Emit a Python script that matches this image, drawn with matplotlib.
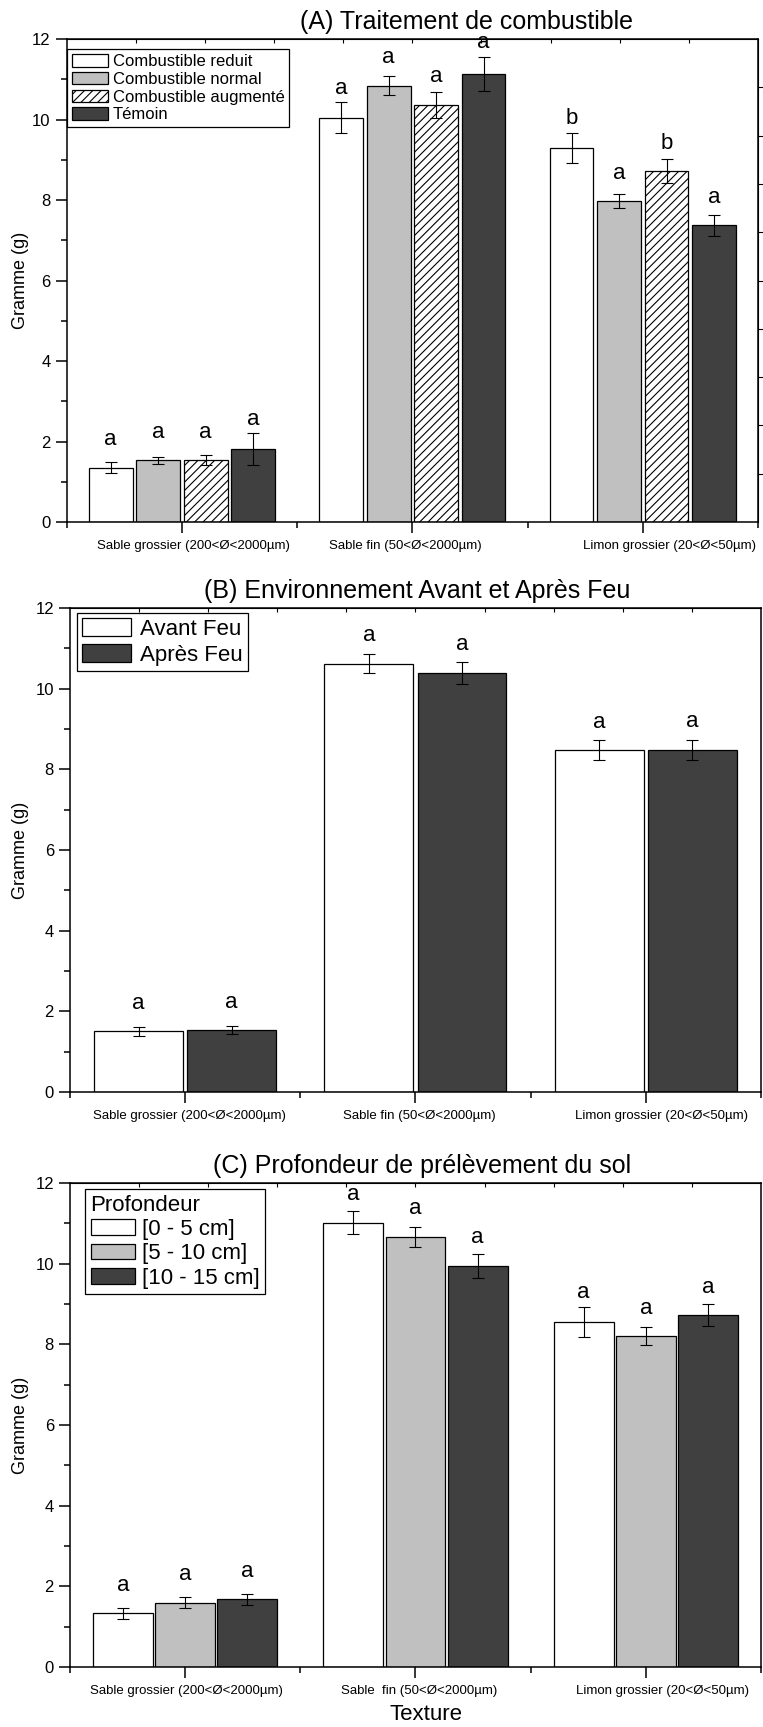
import numpy as np
import matplotlib
matplotlib.use('Agg')
import matplotlib.pyplot as plt
from matplotlib.patches import Patch
from matplotlib.transforms import ScaledTranslation

plt.rcParams['font.family'] = ['Liberation Sans', 'DejaVu Sans']
plt.rcParams['hatch.linewidth'] = 0.8

# textures (categories)
textures_A = ['Sable grossier (200<Ø<2000µm)', 'Sable fin (50<Ø<2000µm)', 'Limon grossier (20<Ø<50µm)']
textures_B = ['Sable grossier (200<Ø<2000µm)', 'Sable fin (50<Ø<2000µm)', 'Limon grossier (20<Ø<50µm)']
textures_C = ['Sable grossier (200<Ø<2000µm)', 'Sable  fin (50<Ø<2000µm)', 'Limon grossier (20<Ø<50µm)']

# (A) traitement de combustible
noms_A = ['Combustible reduit', 'Combustible normal', 'Combustible augmenté', 'Témoin']
reduit = [1.35, 10.05, 9.29]
reduit_err = [0.14, 0.38, 0.38]
normal = [1.53, 10.84, 7.97]
normal_err = [0.09, 0.24, 0.17]
augmente = [1.54, 10.36, 8.72]
augmente_err = [0.13, 0.33, 0.30]
temoin = [1.81, 11.14, 7.37]
temoin_err = [0.40, 0.42, 0.26]
lettres_A = [['a', 'a', 'b'], ['a', 'a', 'a'], ['a', 'a', 'b'], ['a', 'a', 'a']]

# (B) avant / apres feu
noms_B = ['Avant Feu', 'Après Feu']
avant = [1.50, 10.62, 8.47]
avant_err = [0.12, 0.24, 0.25]
apres = [1.53, 10.39, 8.48]
apres_err = [0.10, 0.27, 0.25]
lettres_B = [['a', 'a', 'a'], ['a', 'a', 'a']]

# (C) profondeur
noms_C = ['[0 - 5 cm]', '[5 - 10 cm]', '[10 - 15 cm]']
prof_0_5 = [1.33, 11.02, 8.56]
prof_0_5_err = [0.13, 0.29, 0.37]
prof_5_10 = [1.60, 10.66, 8.20]
prof_5_10_err = [0.13, 0.25, 0.22]
prof_10_15 = [1.68, 9.95, 8.72]
prof_10_15_err = [0.13, 0.30, 0.27]
lettres_C = [['a', 'a', 'a'], ['a', 'a', 'a'], ['a', 'a', 'a']]

BLANC = 'white'
GRIS = '#c0c0c0'
FONCE = '#404040'


def draw_panel(ax, series, errs, lettres, couleurs, hachures, width, step):
	x = np.arange(1, 4)
	n = len(series)
	for i in range(n):
		pos = x + (i - (n - 1) / 2.0) * step
		ax.bar(pos, series[i], width, color=couleurs[i], hatch=hachures[i],
			edgecolor='black', linewidth=0.9, zorder=2)
		ax.errorbar(pos, series[i], yerr=errs[i], fmt='none', ecolor='black',
			elinewidth=0.8, capsize=4, capthick=0.8, zorder=3)
		for j in range(3):
			# letter sits just above the error bar (a bit higher on short bars)
			y_let = max(series[i][j] + errs[i][j], series[i][j] + 0.35)
			ax.annotate(lettres[i][j], (pos[j], y_let),
				xytext=(0, 2.5), textcoords='offset points', ha='center', va='bottom',
				fontsize=16)


def style_axes(ax, labels, shifts, fig, right_ticks=False):
	ax.set_xlim(0.5, 3.5)
	ax.set_ylim(0, 12)
	ax.set_xticks([1, 2, 3])
	ax.set_xticklabels(labels, fontsize=9.5)
	ax.set_xticks([0.5, 1.5, 2.5, 3.5], minor=True)
	ax.set_yticks(np.arange(0, 13, 2))
	ax.set_yticks(np.arange(1, 12, 2), minor=True)
	ax.tick_params(axis='both', which='major', direction='out', length=8, width=1.1)
	ax.tick_params(axis='both', which='minor', direction='out', length=4.5, width=1.1)
	ax.tick_params(axis='y', labelsize=12)
	ax.tick_params(axis='x', pad=5)
	for s in ax.spines.values():
		s.set_linewidth(1.1)
	ax.set_ylabel('Gramme (g)', fontsize=13)
	for lab, dx in zip(ax.get_xticklabels(), shifts):
		lab.set_transform(lab.get_transform() + ScaledTranslation(dx / 100.0, 0, fig.dpi_scale_trans))
	top = ax.secondary_xaxis('top')
	top.set_xticks(np.linspace(0.5, 3.5, 11)[1:-1])
	top.set_xticklabels([])
	top.tick_params(direction='in', length=3, width=0.8)
	if right_ticks:
		right = ax.secondary_yaxis('right')
		right.set_yticks(np.linspace(0, 12, 11)[1:-1])
		right.set_yticklabels([])
		right.tick_params(direction='out', length=4, width=0.8)


fig = plt.figure(figsize=(7.63, 17.27), dpi=100)
axA = fig.add_axes([0.0874, 0.6977, 0.9061, 0.2797])
axB = fig.add_axes([0.0917, 0.3677, 0.9056, 0.2803])
axC = fig.add_axes([0.0917, 0.0347, 0.9056, 0.2803])

# panel A
draw_panel(axA, [reduit, normal, augmente, temoin],
	[reduit_err, normal_err, augmente_err, temoin_err], lettres_A,
	[BLANC, GRIS, BLANC, FONCE], ['', '', '////', ''], 0.19, 0.206)
style_axes(axA, textures_A, [12, -7, 27], fig, right_ticks=True)
axA.set_title('(A) Traitement de combustible', fontsize=18, x=0.578, pad=7)
axA.yaxis.set_label_coords(-0.0546, 0.5)
hA = [Patch(facecolor=BLANC, edgecolor='black', linewidth=0.9),
	Patch(facecolor=GRIS, edgecolor='black', linewidth=0.9),
	Patch(facecolor=BLANC, edgecolor='black', hatch='////', linewidth=0.9),
	Patch(facecolor=FONCE, edgecolor='black', linewidth=0.9)]
legA = axA.legend(hA, noms_A, loc='upper left', bbox_to_anchor=(0.0, 0.979),
	borderaxespad=0, fontsize=12, handlelength=2.16, handleheight=0.78,
	handletextpad=0.3, labelspacing=0.16, borderpad=0.3, fancybox=False,
	framealpha=1, edgecolor='black')
legA.get_frame().set_linewidth(0.9)

# panel B
draw_panel(axB, [avant, apres], [avant_err, apres_err], lettres_B,
	[BLANC, FONCE], ['', ''], 0.386, 0.404)
style_axes(axB, textures_B, [4, 4, 16], fig)
axB.set_title('(B) Environnement Avant et Après Feu', fontsize=18, x=0.503, pad=7)
axB.yaxis.set_label_coords(-0.059, 0.5)
hB = [Patch(facecolor=BLANC, edgecolor='black', linewidth=0.9),
	Patch(facecolor=FONCE, edgecolor='black', linewidth=0.9)]
legB = axB.legend(hB, noms_B, loc='upper left', bbox_to_anchor=(0.010, 0.990),
	borderaxespad=0, fontsize=16, handlelength=2.2, handleheight=0.85,
	handletextpad=0.4, labelspacing=0.2, borderpad=0.25, fancybox=False,
	framealpha=1, edgecolor='black')
legB.get_frame().set_linewidth(0.9)

# panel C
draw_panel(axC, [prof_0_5, prof_5_10, prof_10_15],
	[prof_0_5_err, prof_5_10_err, prof_10_15_err], lettres_C,
	[BLANC, GRIS, FONCE], ['', '', ''], 0.26, 0.27)
style_axes(axC, textures_C, [1, 4, 17], fig)
axC.set_title('(C) Profondeur de prélèvement du sol', fontsize=18, x=0.509, pad=7)
axC.yaxis.set_label_coords(-0.059, 0.5)
hC = [Patch(facecolor=BLANC, edgecolor='black', linewidth=0.9),
	Patch(facecolor=GRIS, edgecolor='black', linewidth=0.9),
	Patch(facecolor=FONCE, edgecolor='black', linewidth=0.9)]
legC = axC.legend(hC, noms_C, title='Profondeur', alignment='left',
	loc='upper left', bbox_to_anchor=(0.0217, 0.9876), borderaxespad=0,
	fontsize=16, title_fontsize=16, handlelength=2.0, handleheight=0.72,
	handletextpad=0.3, labelspacing=0.15, borderpad=0.25, fancybox=False,
	framealpha=1, edgecolor='black')
legC.get_frame().set_linewidth(0.9)

fig.text(426.5 / 763.0, 1 - 1714 / 1727.0, 'Texture', ha='center', va='center', fontsize=16)

fig.savefig('out.png', dpi=100)
